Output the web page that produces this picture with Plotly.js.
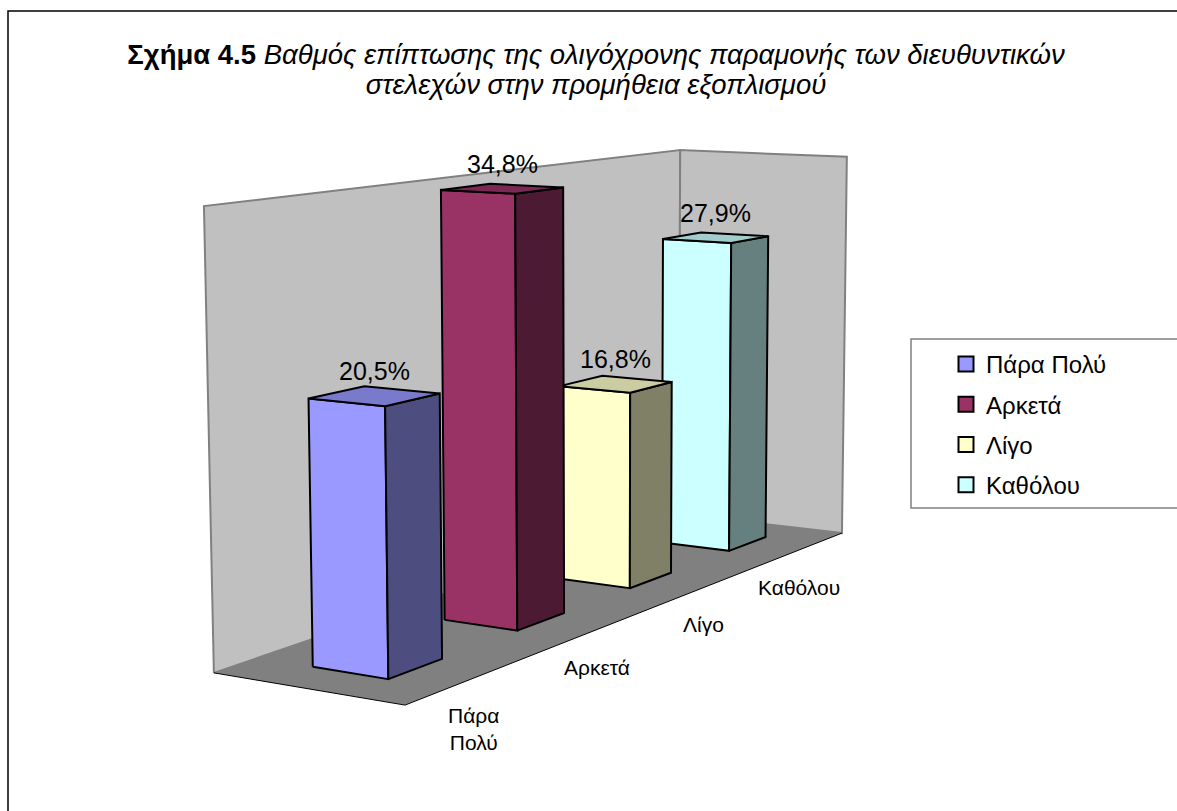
<!DOCTYPE html>
<html>
<head>
<meta charset="utf-8">
<script src="https://cdn.plot.ly/plotly-3.0.1.min.js"></script>
<style>html,body{margin:0;padding:0;background:#fff;}#chart{width:1177px;height:811px;}</style>
</head>
<body>
<div id="chart"></div>
<script>
// ---------------- data ----------------
const categories = ['Πάρα Πολύ', 'Αρκετά', 'Λίγο', 'Καθόλου'];
const tickLabels = ['Πάρα<br>Πολύ', 'Αρκετά', 'Λίγο', 'Καθόλου'];
const values = [20.5, 34.8, 16.8, 27.9];          // percent
const mainColors = ['#9999FF', '#993366', '#FFFFCC', '#CCFFFF'];
const darkColors = ['#4D4D80', '#4D1A33', '#808066', '#668080'];
const topColors  = ['#7A7ACC', '#7A2952', '#CCCCA3', '#A3CCCC'];
const valueMax = 35;                                 // value-axis maximum (wall height)

// ---------------- 3-D scene calibration (perspective camera) ----------------
// world coords: u along categories [0..4], v depth [0..1], h height [0..1]
const calWorld  = [[0,1,1],[0,1,0],[0,0,0],[4,0,0],[4,1,1],[4,0,1],[0.3,0.3,0],[0.3,0.7,0],[0.7,0.3,0]];
const calScreen = [[204,206],[214,673],[405,705],[842,533],[680,150],[847,157],[388,679],[313,667],[442,659]];

function solveDLT(W, S){
  const n = 11, M = [], r = [];
  for (let i=0;i<n;i++){ M.push(new Array(n).fill(0)); r.push(0); }
  const rows = [], rhs = [];
  W.forEach((p,k)=>{
    const [X,Y,Z] = p, [x,y] = S[k];
    rows.push([X,Y,Z,1,0,0,0,0,-x*X,-x*Y,-x*Z]); rhs.push(x);
    rows.push([0,0,0,0,X,Y,Z,1,-y*X,-y*Y,-y*Z]); rhs.push(y);
  });
  rows.forEach((row,k)=>{
    for (let i=0;i<n;i++){ r[i]+=row[i]*rhs[k]; for (let j=0;j<n;j++) M[i][j]+=row[i]*row[j]; }
  });
  for (let c=0;c<n;c++){
    let piv=c; for (let i=c+1;i<n;i++) if (Math.abs(M[i][c])>Math.abs(M[piv][c])) piv=i;
    [M[c],M[piv]]=[M[piv],M[c]]; [r[c],r[piv]]=[r[piv],r[c]];
    for (let i=0;i<n;i++){ if(i===c) continue; const f=M[i][c]/M[c][c];
      for (let j=c;j<n;j++) M[i][j]-=f*M[c][j]; r[i]-=f*r[c]; }
  }
  return r.map((v,i)=>v/M[i][i]);
}
const P = solveDLT(calWorld, calScreen);
function proj(u,v,h){
  const w = P[8]*u+P[9]*v+P[10]*h+1;
  return [(P[0]*u+P[1]*v+P[2]*h+P[3])/w, (P[4]*u+P[5]*v+P[6]*h+P[7])/w];
}

const traces = [];
function poly(pts, fill, lineColor, lineWidth){
  const xy = pts.map(p=>proj(p[0],p[1],p[2]));
  traces.push({type:'scatter', mode:'lines', x:xy.map(p=>p[0]).concat([xy[0][0]]), y:xy.map(p=>p[1]).concat([xy[0][1]]),
    fill: fill ? 'toself' : 'none', fillcolor: fill || undefined,
    line:{color:lineColor||'rgba(0,0,0,0)', width:lineWidth||0}, showlegend:false, hoverinfo:'skip'});
}
function polyline(pts, color, width){
  const xy = pts.map(p=>proj(p[0],p[1],p[2]));
  traces.push({type:'scatter', mode:'lines', x:xy.map(p=>p[0]), y:xy.map(p=>p[1]),
    line:{color:color, width:width}, showlegend:false, hoverinfo:'skip'});
}

const N = categories.length;
// walls & floor
poly([[0,1,0],[N,1,0],[N,1,1],[0,1,1]], '#C0C0C0', '#808080', 2);
poly([[N,1,0],[N,0,0],[N,0,1],[N,1,1]], '#C0C0C0', '#808080', 2);
poly([[0,0,0],[N,0,0],[N,1,0],[0,1,0]], '#808080', null, 0);
polyline([[0,1,0],[0,0,0],[N,0,0]], '#000000', 1);

// bars (far to near)
const gap = 0.3, dGap = 0.3;
const annotations = [];
for (let i=N-1;i>=0;i--){
  const u0=i+gap, u1=i+1-gap, v0=dGap, v1=1-dGap, h=values[i]/valueMax;
  poly([[u0,v1,0],[u0,v0,0],[u0,v0,h],[u0,v1,h]], mainColors[i], '#000', 2);
  poly([[u0,v0,0],[u1,v0,0],[u1,v0,h],[u0,v0,h]], darkColors[i], '#000', 2);
  poly([[u0,v1,h],[u0,v0,h],[u1,v0,h],[u1,v1,h]], topColors[i], '#000', 2);
}
for (let i=0;i<N;i++){
  const h=values[i]/valueMax;
  const t = proj(i+0.5, 0.5, h);
  annotations.push({x:t[0], y:t[1], xref:'x', yref:'y', showarrow:false, yshift:25,
    text: values[i].toFixed(1).replace('.', ',') + '%', font:{size:25, color:'#000'}});
  const c = proj(i+0.5, 0, 0);
  annotations.push({x:c[0], y:c[1], xref:'x', yref:'y', showarrow:false, xanchor:'center', yanchor:'top',
    xshift:0, yshift:-24, text: tickLabels[i], font:{size:21, color:'#000'}});
}
// legend entries
for (let i=0;i<N;i++){
  traces.push({type:'scatter', mode:'markers', x:[null], y:[null], name:categories[i], legendgroup:'g'+i,
    marker:{symbol:'square', size:15, color:mainColors[i], line:{color:'#000', width:2}}, hoverinfo:'skip'});
}

const layout = {
  width:1177, height:811, margin:{l:0,r:0,t:0,b:0},
  paper_bgcolor:'#fff', plot_bgcolor:'#fff',
  font:{family:'"Liberation Sans", Arial, sans-serif', color:'#000'},
  title:{text:'<span style="font-size:27.5px"><b>Σχήμα 4.5</b> <i>Βαθμός επίπτωσης της ολιγόχρονης παραμονής των διευθυντικών</i></span><br><span style="font-size:27.5px"><i>στελεχών στην προμήθεια εξοπλισμού</i></span>',
    font:{size:23, color:'#000'}, x:596/1177, xanchor:'center', xref:'container', y:1-64/811, yanchor:'top', yref:'container'},
  xaxis:{range:[0,1177], visible:false, fixedrange:true},
  yaxis:{range:[811,0], visible:false, fixedrange:true},
  showlegend:true,
  legend:{x:946/1177, y:1-342/811, xanchor:'left', yanchor:'top', bgcolor:'rgba(0,0,0,0)', borderwidth:0,
    font:{size:24, color:'#000'}, tracegroupgap:6},
  shapes:[
    {type:'rect', xref:'x', yref:'y', x0:8, y0:11, x1:1200, y1:830, line:{color:'#000', width:1.5}, layer:'below'},
    {type:'rect', xref:'x', yref:'y', x0:911, y0:339, x1:1200, y1:508, line:{color:'#808080', width:1.5}, fillcolor:'#fff', layer:'below'}
  ],
  annotations: annotations
};
Plotly.newPlot('chart', traces, layout, {staticPlot:true, displayModeBar:false});
</script>
</body>
</html>
